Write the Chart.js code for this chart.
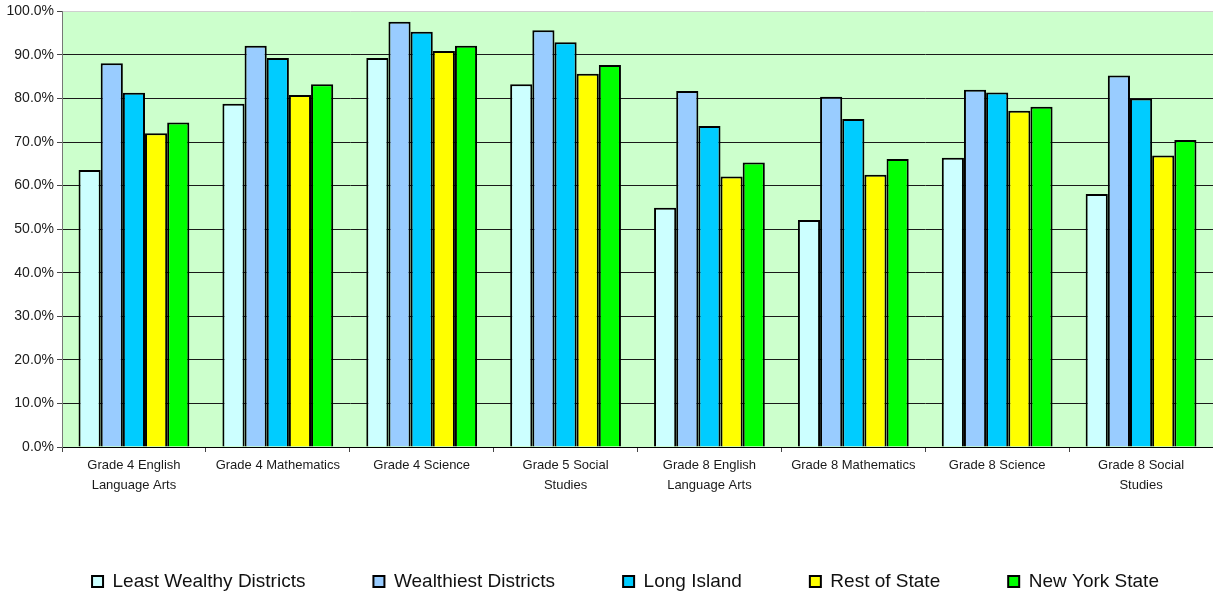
<!DOCTYPE html>
<html>
<head>
<meta charset="utf-8">
<script src="https://cdn.jsdelivr.net/npm/chart.js@4/dist/chart.umd.min.js"></script>
<style>
  html, body { margin: 0; padding: 0; background: #fff; }
  #wrap { width: 1213px; height: 596px; position: relative; }
</style>
</head>
<body>
<div id="wrap"><canvas id="chart" width="1213" height="596"></canvas></div>
<script>
// Subjects tested (two-line labels under the axis)
const categories = [
  ['Grade 4 English', 'Language Arts'],
  ['Grade 4 Mathematics'],
  ['Grade 4 Science'],
  ['Grade 5 Social', 'Studies'],
  ['Grade 8 English', 'Language Arts'],
  ['Grade 8 Mathematics'],
  ['Grade 8 Science'],
  ['Grade 8 Social', 'Studies']
];

// Percent of students meeting standards, per region group
const leastWealthy = [63.6, 78.8, 89.3, 83.3, 54.9, 52.1, 66.4, 58.1];
const wealthiest   = [88.1, 92.1, 97.6, 95.7, 81.7, 80.4, 82.0, 85.3];
const longIsland   = [81.3, 89.3, 95.3, 92.9, 73.7, 75.3, 81.4, 80.0];
const restOfState  = [72.0, 80.8, 90.9, 85.7, 62.1, 62.5, 77.2, 66.9];
const newYorkState = [74.5, 83.3, 92.1, 87.7, 65.3, 66.1, 78.1, 70.5];

const seriesNames = ['Least Wealthy Districts', 'Wealthiest Districts', 'Long Island', 'Rest of State', 'New York State'];
const seriesColors = ['#CCFFFF', '#99CCFF', '#00CCFF', '#FFFF00', '#00FF00'];
const seriesValues = [leastWealthy, wealthiest, longIsland, restOfState, newYorkState];

const FONT = '"Liberation Sans", Arial, Helvetica, sans-serif';

// Pale green plot background
const plotBackground = {
  id: 'plotBackground',
  beforeDraw(chart) {
    const { ctx, chartArea: a } = chart;
    ctx.save();
    ctx.fillStyle = '#CCFFCC';
    ctx.fillRect(a.left, a.top, a.right - a.left, a.bottom - a.top);
    ctx.restore();
  }
};

// Nudge the legend row a little to the right of centre
const legendShift = {
  id: 'legendShift',
  afterLayout(chart) {
    if (chart.legend) {
      chart.legend.left += 19;
      chart.legend.right += 19;
    }
  }
};

new Chart(document.getElementById('chart'), {
  type: 'bar',
  data: {
    labels: categories,
    datasets: seriesNames.map((name, i) => ({
      label: name,
      data: seriesValues[i],
      backgroundColor: seriesColors[i],
      borderColor: '#000000',
      borderWidth: 2,
      categoryPercentage: 0.77,
      barPercentage: 1.0
    }))
  },
  options: {
    responsive: false,
    animation: false,
    layout: { padding: { top: 9, right: 0, bottom: 0, left: 0 } },
    plugins: {
      tooltip: { enabled: false },
      legend: {
        position: 'bottom',
        maxHeight: 92,
        labels: {
          boxWidth: 11,
          boxHeight: 11,
          padding: 68,
          color: '#111',
          font: { family: FONT, size: 19 }
        }
      }
    },
    scales: {
      x: {
        grid: {
          drawOnChartArea: false,
          drawTicks: true,
          tickLength: 5,
          color: '#444',
          offset: true
        },
        border: { display: true, color: '#000', width: 1 },
        ticks: {
          color: '#1a1a1a',
          padding: 3,
          maxRotation: 0,
          autoSkip: false,
          font: { family: FONT, size: 13, lineHeight: 1.55 }
        },
        afterFit(scale) { scale.height = 57; }
      },
      y: {
        min: 0,
        max: 100,
        ticks: {
          stepSize: 10,
          color: '#1a1a1a',
          padding: 3,
          font: { family: FONT, size: 14 },
          callback: v => v.toFixed(1) + '%'
        },
        grid: {
          color: ctx => ctx.tick && ctx.tick.value === 100 ? '#cfcfcf' : '#1a1a1a',
          lineWidth: 1,
          tickLength: 5,
          tickColor: '#444'
        },
        border: { display: true, color: '#777', width: 1 },
        afterFit(scale) { scale.width = 62; }
      }
    }
  },
  plugins: [plotBackground, legendShift]
});
</script>
</body>
</html>
